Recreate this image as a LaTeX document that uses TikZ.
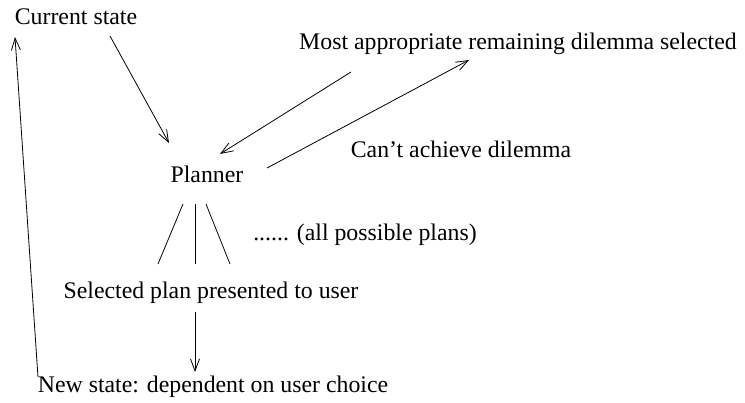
\documentclass[tikz,border=0pt]{standalone}
\usepackage{fontspec}
\setmainfont{Liberation Serif}
\usetikzlibrary{arrows.meta}
\begin{document}
\begin{tikzpicture}[x=1pt,y=-1pt,
  lbl/.style={inner sep=0pt,font=\fontsize{23.8}{27}\selectfont},
  conn/.style={line width=0.8pt,-{Straight Barb[length=12pt,width=9pt,line width=0.8pt]}},
  plain/.style={line width=0.8pt}]
\useasboundingbox (0,0) rectangle (745,402);
\node[lbl] (cur) at (76,17) {Current state};
\node[lbl] (most) at (518,44) {Most appropriate remaining dilemma selected};
\node[lbl] (cant) at (461,149) {Can’t achieve dilemma};
\node[lbl] (plan) at (207,174) {Planner};
\node[lbl] (all) at (365,235) {...... (all possible plans)};
\node[lbl] (sel) at (211,293) {Selected plan presented to user};
\node[lbl] (new) at (213,387) {New state: dependent on user choice};
\coordinate (a1) at (110,36); \coordinate (a2) at (169,143);
\coordinate (b1) at (351,72); \coordinate (b2) at (220,154);
\coordinate (c1) at (267,168); \coordinate (c2) at (469,60);
\coordinate (d1) at (38,377); \coordinate (d2) at (15,37);
\coordinate (e1) at (195,312); \coordinate (e2) at (195,372);
\coordinate (l1) at (183,204); \coordinate (l2) at (158,264);
\coordinate (m1) at (195,204); \coordinate (m2) at (195,264);
\coordinate (r1) at (206,204); \coordinate (r2) at (230,264);
\draw[conn] (a1) -- (a2);
\draw[conn] (b1) -- (b2);
\draw[conn] (c1) -- (c2);
\draw[conn] (d1) -- (d2);
\draw[conn] (e1) -- (e2);
\draw[plain] (l1) -- (l2);
\draw[plain] (m1) -- (m2);
\draw[plain] (r1) -- (r2);
\end{tikzpicture}
\end{document}
